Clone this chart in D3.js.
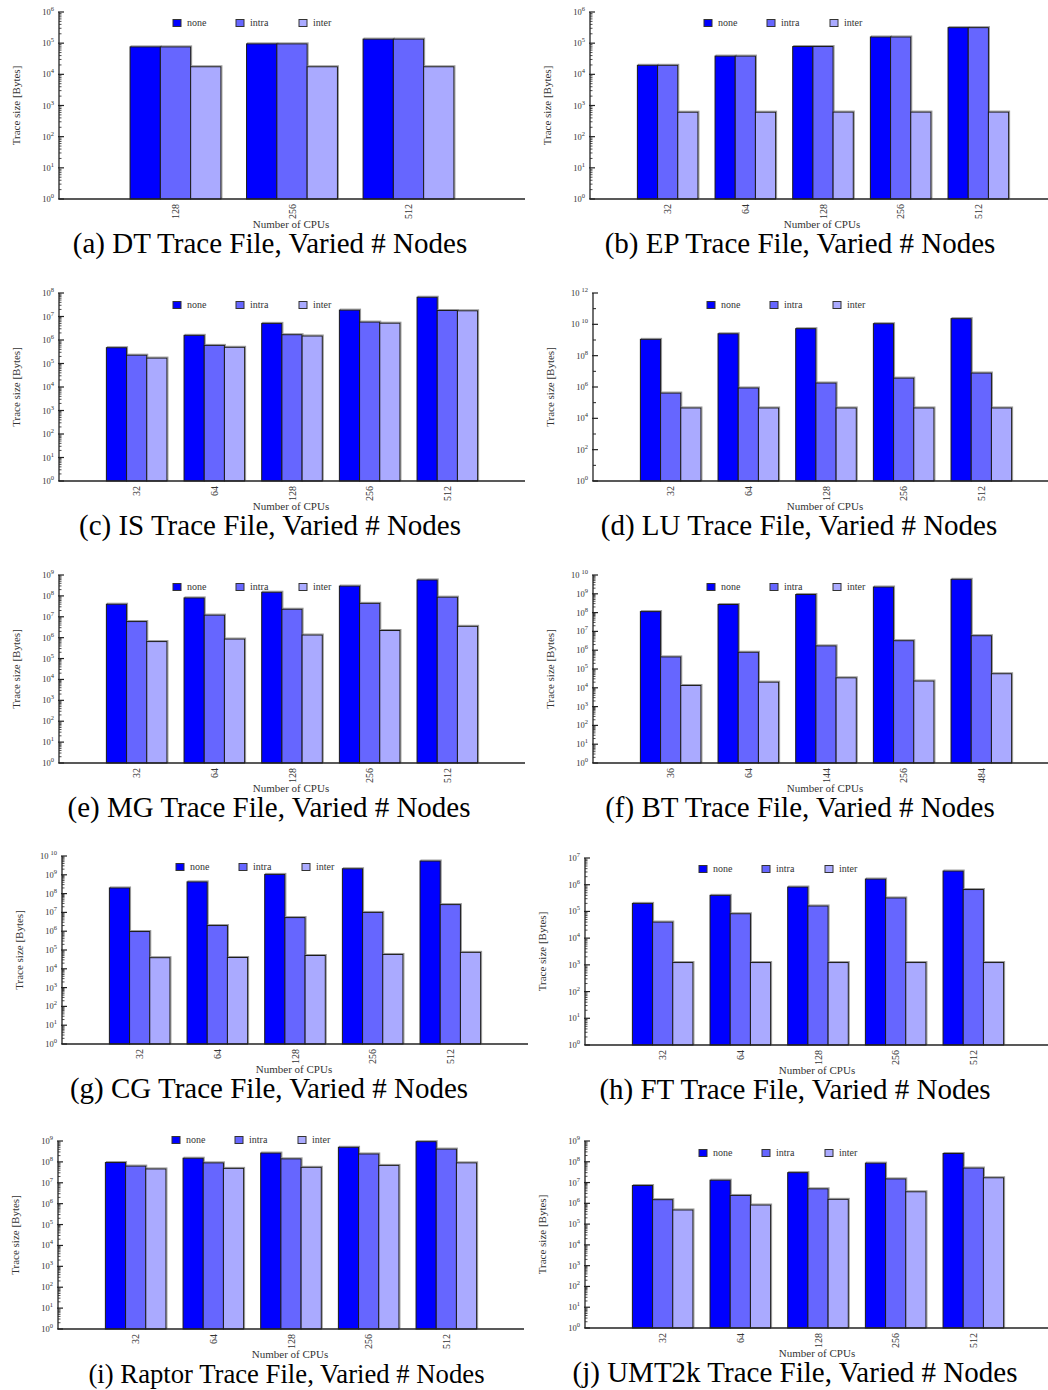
<!DOCTYPE html>
<html>
<head>
<meta charset="utf-8">
<script src="https://cdn.jsdelivr.net/npm/d3@7"></script>
<style>
  body { margin: 0; background: #fff; }
  svg { display: block; font-family: "Liberation Serif", "Times New Roman", serif; }
</style>
</head>
<body>
<svg id="chart" width="1048" height="1390"></svg>
<script>
// Trace sizes in bytes for three compression modes
const seriesNames = ["none", "intra", "inter"];

const dtCpus = ["128", "256", "512"];
const dtNone  = [7.6e4, 9.5e4, 1.35e5];
const dtIntra = [7.6e4, 9.5e4, 1.35e5];
const dtInter = [1.75e4, 1.75e4, 1.75e4];

const epCpus = ["32", "64", "128", "256", "512"];
const epNone  = [1.95e4, 3.85e4, 7.8e4, 1.58e5, 3.15e5];
const epIntra = [1.95e4, 3.85e4, 7.8e4, 1.58e5, 3.15e5];
const epInter = [610, 610, 615, 615, 615];

const isCpus = ["32", "64", "128", "256", "512"];
const isNone  = [4.7e5, 1.58e6, 5.1e6, 1.87e7, 6.6e7];
const isIntra = [2.26e5, 5.9e5, 1.68e6, 5.8e6, 1.8e7];
const isInter = [1.7e5, 4.9e5, 1.48e6, 5.2e6, 1.75e7];

const luCpus = ["32", "64", "128", "256", "512"];
const luNone  = [1.1e9, 2.5e9, 5.3e9, 1.1e10, 2.3e10];
const luIntra = [4.1e5, 8.7e5, 1.8e6, 3.7e6, 7.8e6];
const luInter = [4.6e4, 4.6e4, 4.6e4, 4.6e4, 4.6e4];

const mgCpus = ["32", "64", "128", "256", "512"];
const mgNone  = [4.0e7, 8.0e7, 1.5e8, 2.95e8, 5.8e8];
const mgIntra = [5.9e6, 1.2e7, 2.3e7, 4.4e7, 8.7e7];
const mgInter = [6.5e5, 8.6e5, 1.34e6, 2.2e6, 3.5e6];

const btCpus = ["36", "64", "144", "256", "484"];
const btNone  = [1.13e8, 2.7e8, 9.2e8, 2.3e9, 5.9e9];
const btIntra = [4.4e5, 7.8e5, 1.7e6, 3.2e6, 5.9e6];
const btInter = [1.33e4, 2.0e4, 3.4e4, 2.3e4, 5.6e4];

const cgCpus = ["32", "64", "128", "256", "512"];
const cgNone  = [2.0e8, 4.2e8, 1.05e9, 2.1e9, 5.4e9];
const cgIntra = [9.6e5, 2.0e6, 5.3e6, 1.0e7, 2.6e7];
const cgInter = [3.9e4, 4.0e4, 5.1e4, 5.8e4, 7.5e4];

const ftCpus = ["32", "64", "128", "256", "512"];
const ftNone  = [2.0e5, 4.0e5, 8.2e5, 1.63e6, 3.25e6];
const ftIntra = [4.0e4, 8.2e4, 1.6e5, 3.2e5, 6.6e5];
const ftInter = [1.22e3, 1.22e3, 1.22e3, 1.22e3, 1.22e3];

const raptorCpus = ["32", "64", "128", "256", "512"];
const raptorNone  = [9.3e7, 1.5e8, 2.65e8, 5.0e8, 9.3e8];
const raptorIntra = [6.3e7, 9.0e7, 1.4e8, 2.4e8, 4.1e8];
const raptorInter = [4.6e7, 4.9e7, 5.5e7, 6.8e7, 9.0e7];

const umtCpus = ["32", "64", "128", "256", "512"];
const umtNone  = [7.2e6, 1.3e7, 3.0e7, 8.6e7, 2.5e8];
const umtIntra = [1.5e6, 2.4e6, 5.0e6, 1.5e7, 5.0e7];
const umtInter = [4.8e5, 8.3e5, 1.56e6, 3.6e6, 1.7e7];

// Panel captions and the decade range of each y axis
const captions = [
  "(a) DT Trace File, Varied # Nodes",
  "(b) EP Trace File, Varied # Nodes",
  "(c) IS Trace File, Varied # Nodes",
  "(d) LU Trace File, Varied # Nodes",
  "(e) MG Trace File, Varied # Nodes",
  "(f) BT Trace File, Varied # Nodes",
  "(g) CG Trace File, Varied # Nodes",
  "(h) FT Trace File, Varied # Nodes",
  "(i) Raptor Trace File, Varied # Nodes",
  "(j) UMT2k Trace File, Varied # Nodes"
];
const topExponents = [6, 6, 8, 12, 9, 10, 10, 7, 9, 9];
const exponentSteps = [1, 1, 1, 2, 1, 1, 1, 1, 1, 1];

const panelData = [
  { cpus: dtCpus, series: [dtNone, dtIntra, dtInter] },
  { cpus: epCpus, series: [epNone, epIntra, epInter] },
  { cpus: isCpus, series: [isNone, isIntra, isInter] },
  { cpus: luCpus, series: [luNone, luIntra, luInter] },
  { cpus: mgCpus, series: [mgNone, mgIntra, mgInter] },
  { cpus: btCpus, series: [btNone, btIntra, btInter] },
  { cpus: cgCpus, series: [cgNone, cgIntra, cgInter] },
  { cpus: ftCpus, series: [ftNone, ftIntra, ftInter] },
  { cpus: raptorCpus, series: [raptorNone, raptorIntra, raptorInter] },
  { cpus: umtCpus, series: [umtNone, umtIntra, umtInter] }
];

// Page layout: axis origin, top tick, baseline, legend offset, caption centre and size
const layout = [
  { x0: 59,  top: 12,   base: 199,  legendDy: 11, capX: 270,   capSize: 29 },
  { x0: 590, top: 12,   base: 199,  legendDy: 11, capX: 800,   capSize: 29 },
  { x0: 59,  top: 293,  base: 481,  legendDy: 12, capX: 270,   capSize: 29 },
  { x0: 593, top: 293,  base: 481,  legendDy: 12, capX: 799,   capSize: 29 },
  { x0: 59,  top: 575,  base: 763,  legendDy: 12, capX: 269,   capSize: 29 },
  { x0: 593, top: 575,  base: 763,  legendDy: 12, capX: 800,   capSize: 29 },
  { x0: 62,  top: 856,  base: 1044, legendDy: 11, capX: 269,   capSize: 29 },
  { x0: 585, top: 858,  base: 1045, legendDy: 11, capX: 795,   capSize: 29 },
  { x0: 58,  top: 1141, base: 1329, legendDy: -1, capX: 286.5, capSize: 26.7 },
  { x0: 585, top: 1141, base: 1328, legendDy: 12, capX: 795,   capSize: 29 }
];

const colors = ["#0000ff", "#6666ff", "#aaaaff"];
const plotWidth = 466;
const barFrac = 0.26;

const svg = d3.select("#chart");

panelData.forEach((pd, i) => {
  const L = layout[i];
  const n = pd.cpus.length;
  const g = svg.append("g").attr("class", "panel");

  const x = d3.scaleLinear().domain([-1, n]).range([L.x0, L.x0 + plotWidth]);
  const unit = x(1) - x(0);
  const maxExp = topExponents[i];
  const step = exponentSteps[i];
  const y = d3.scaleLog().domain([1, Math.pow(10, maxExp)]).range([L.base, L.top]);

  // bars with a faint grey drop outline
  pd.series.forEach((vals, s) => {
    const bw = barFrac * unit;
    const bars = g.append("g");
    vals.forEach((v, k) => {
      const bx = x(k) + (s - 1.5) * bw;
      const by = y(v);
      bars.append("rect")
        .attr("x", bx + 1).attr("y", by - 1)
        .attr("width", bw).attr("height", L.base - by)
        .attr("fill", "none").attr("stroke", "#9a9a9a").attr("stroke-width", 1);
    });
    vals.forEach((v, k) => {
      const bx = x(k) + (s - 1.5) * bw;
      const by = y(v);
      bars.append("rect")
        .attr("x", bx).attr("y", by)
        .attr("width", bw).attr("height", L.base - by)
        .attr("fill", colors[s]).attr("stroke", "#1a1a1a").attr("stroke-width", 1);
    });
  });

  // y axis: line, decade ticks and minor ticks
  const ax = g.append("g").attr("stroke", "#222");
  ax.append("line").attr("x1", L.x0).attr("x2", L.x0)
    .attr("y1", L.top).attr("y2", L.base).attr("stroke-width", 1.3);
  for (let e = 0; e <= maxExp; e++) {
    const ty = y(Math.pow(10, e));
    if (e % step === 0) {
      ax.append("line").attr("x1", L.x0 - 1).attr("x2", L.x0 + 5)
        .attr("y1", ty).attr("y2", ty).attr("stroke-width", 1.2);
    } else {
      ax.append("line").attr("x1", L.x0).attr("x2", L.x0 + 3)
        .attr("y1", ty).attr("y2", ty).attr("stroke-width", 1);
    }
    if (step === 1 && e < maxExp) {
      for (let m = 2; m <= 9; m++) {
        const my = y(m * Math.pow(10, e));
        ax.append("line").attr("x1", L.x0).attr("x2", L.x0 + 2.5)
          .attr("y1", my).attr("y2", my).attr("stroke-width", 0.8);
      }
    }
  }
  // x axis baseline
  ax.append("line").attr("x1", L.x0).attr("x2", L.x0 + plotWidth)
    .attr("y1", L.base).attr("y2", L.base).attr("stroke-width", 1.5);

  // decade labels
  const labels = g.append("g").attr("fill", "#333").attr("font-size", 8.5);
  for (let e = 0; e <= maxExp; e += step) {
    const ty = y(Math.pow(10, e));
    const t = labels.append("text")
      .attr("x", L.x0 - 5).attr("y", ty + 3).attr("text-anchor", "end");
    t.append("tspan").text("10");
    t.append("tspan").attr("dy", -4).attr("dx", e >= 10 ? 2 : 0)
      .attr("font-size", 6.5).text(String(e));
  }

  // CPU count labels, rotated
  const xl = g.append("g").attr("fill", "#333").attr("font-size", 10);
  pd.cpus.forEach((c, k) => {
    xl.append("text")
      .attr("transform", `translate(${x(k) + 3.5},${L.base + 5}) rotate(-90)`)
      .attr("text-anchor", "end").text(c);
  });

  // axis titles
  g.append("text").attr("x", L.x0 + plotWidth / 2 - 1).attr("y", L.base + 29)
    .attr("text-anchor", "middle").attr("font-size", 11).attr("fill", "#333")
    .text("Number of CPUs");
  g.append("text")
    .attr("transform", `translate(${L.x0 - 39},${(L.top + L.base) / 2}) rotate(-90)`)
    .attr("text-anchor", "middle").attr("font-size", 11).attr("fill", "#333")
    .text("Trace size [Bytes]");

  // legend
  const leg = g.append("g");
  const ly = L.top + L.legendDy;
  const legOffsets = [114, 177, 240];
  seriesNames.forEach((name, s) => {
    const lx = L.x0 + legOffsets[s];
    leg.append("rect").attr("x", lx).attr("y", ly - 3.5).attr("width", 8).attr("height", 7)
      .attr("fill", colors[s]).attr("stroke", "#333").attr("stroke-width", 1);
    leg.append("text").attr("x", lx + 14).attr("y", ly + 3)
      .attr("font-size", 10).attr("fill", "#333").text(name);
  });

  // caption
  g.append("text").attr("x", L.capX).attr("y", L.base + 53.5)
    .attr("text-anchor", "middle").attr("font-size", L.capSize).attr("fill", "#000")
    .text(captions[i]);
});
</script>
</body>
</html>
